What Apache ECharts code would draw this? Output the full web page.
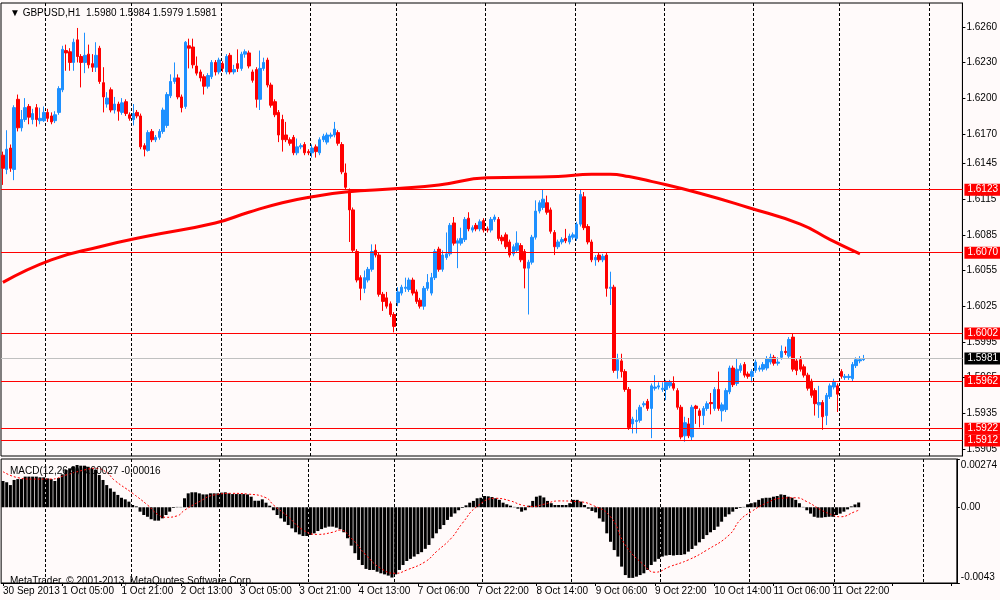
<!DOCTYPE html>
<html>
<head>
<meta charset="utf-8">
<title>GBPUSD,H1</title>
<script src="https://cdn.jsdelivr.net/npm/echarts@6/dist/echarts.min.js"></script>
<style>
html, body { margin: 0; padding: 0; background: #fffafa; }
#chart { width: 1000px; height: 600px; }
</style>
</head>
<body>
<div id="chart"></div>
<script>
// time labels under the chart, one every 16 hourly bars
var timeLabels = ['30 Sep 2013', '1 Oct 05:00', '1 Oct 21:00', '2 Oct 13:00', '3 Oct 05:00',
    '3 Oct 21:00', '4 Oct 13:00', '7 Oct 06:00', '7 Oct 22:00', '8 Oct 14:00',
    '9 Oct 06:00', '9 Oct 22:00', '10 Oct 14:00', '11 Oct 06:00', '11 Oct 22:00']
var slotCount = 258          // bars + empty space on the right
var daySlots = [12, 35, 59, 83, 106, 130, 154, 178, 202, 225, 249]

// hourly candles: [open, close, low, high]
var bars = [
    [1.6152, 1.6141, 1.6127, 1.6155], [1.6140, 1.6157, 1.6136, 1.6173], [1.6158, 1.6141, 1.6138, 1.6161], [1.6140, 1.6192, 1.6131, 1.6194],
    [1.6199, 1.6175, 1.6172, 1.6203], [1.6175, 1.6182, 1.6172, 1.6190], [1.6182, 1.6192, 1.6180, 1.6200], [1.6193, 1.6184, 1.6178, 1.6195],
    [1.6182, 1.6187, 1.6178, 1.6191], [1.6192, 1.6182, 1.6176, 1.6195], [1.6181, 1.6183, 1.6178, 1.6192], [1.6181, 1.6188, 1.6180, 1.6193],
    [1.6188, 1.6183, 1.6180, 1.6191], [1.6185, 1.6180, 1.6178, 1.6188], [1.6181, 1.6186, 1.6179, 1.6189], [1.6188, 1.6208, 1.6186, 1.6210],
    [1.6207, 1.6241, 1.6205, 1.6244], [1.6240, 1.6238, 1.6223, 1.6245], [1.6239, 1.6230, 1.6223, 1.6242], [1.6230, 1.6247, 1.6223, 1.6250],
    [1.6249, 1.6235, 1.6230, 1.6259], [1.6235, 1.6230, 1.6209, 1.6237], [1.6230, 1.6236, 1.6221, 1.6255], [1.6237, 1.6228, 1.6225, 1.6245],
    [1.6229, 1.6226, 1.6222, 1.6237], [1.6226, 1.6236, 1.6222, 1.6247], [1.6242, 1.6214, 1.6212, 1.6244], [1.6213, 1.6201, 1.6188, 1.6226],
    [1.6195, 1.6200, 1.6192, 1.6205], [1.6207, 1.6190, 1.6188, 1.6209], [1.6190, 1.6195, 1.6187, 1.6201], [1.6195, 1.6189, 1.6181, 1.6197],
    [1.6188, 1.6196, 1.6186, 1.6200], [1.6197, 1.6187, 1.6185, 1.6199], [1.6186, 1.6183, 1.6181, 1.6188], [1.6182, 1.6187, 1.6177, 1.6195],
    [1.6188, 1.6185, 1.6183, 1.6190], [1.6185, 1.6159, 1.6157, 1.6187], [1.6160, 1.6157, 1.6151, 1.6162], [1.6156, 1.6171, 1.6155, 1.6173],
    [1.6172, 1.6165, 1.6163, 1.6174], [1.6165, 1.6167, 1.6163, 1.6169], [1.6167, 1.6172, 1.6165, 1.6174], [1.6172, 1.6190, 1.6170, 1.6192],
    [1.6177, 1.6203, 1.6175, 1.6205], [1.6202, 1.6214, 1.6200, 1.6220], [1.6214, 1.6217, 1.6212, 1.6230], [1.6217, 1.6201, 1.6199, 1.6220],
    [1.6201, 1.6192, 1.6188, 1.6203], [1.6193, 1.6247, 1.6191, 1.6248], [1.6244, 1.6242, 1.6225, 1.6250], [1.6243, 1.6228, 1.6225, 1.6250],
    [1.6227, 1.6221, 1.6219, 1.6235], [1.6222, 1.6217, 1.6214, 1.6224], [1.6218, 1.6210, 1.6203, 1.6220], [1.6210, 1.6219, 1.6208, 1.6221],
    [1.6218, 1.6230, 1.6216, 1.6232], [1.6230, 1.6222, 1.6219, 1.6232], [1.6222, 1.6232, 1.6220, 1.6234], [1.6229, 1.6225, 1.6222, 1.6231],
    [1.6222, 1.6235, 1.6220, 1.6237], [1.6236, 1.6222, 1.6220, 1.6238], [1.6222, 1.6224, 1.6220, 1.6228], [1.6229, 1.6225, 1.6222, 1.6241],
    [1.6225, 1.6237, 1.6223, 1.6239], [1.6237, 1.6239, 1.6234, 1.6241], [1.6238, 1.6227, 1.6225, 1.6240], [1.6222, 1.6215, 1.6213, 1.6224],
    [1.6224, 1.6199, 1.6192, 1.6226], [1.6199, 1.6225, 1.6190, 1.6240], [1.6225, 1.6230, 1.6223, 1.6234], [1.6232, 1.6211, 1.6209, 1.6234],
    [1.6211, 1.6194, 1.6192, 1.6213], [1.6197, 1.6186, 1.6184, 1.6199], [1.6188, 1.6169, 1.6163, 1.6190], [1.6182, 1.6165, 1.6155, 1.6186],
    [1.6169, 1.6165, 1.6163, 1.6180], [1.6165, 1.6162, 1.6160, 1.6167], [1.6167, 1.6154, 1.6152, 1.6169], [1.6154, 1.6159, 1.6152, 1.6166],
    [1.6159, 1.6160, 1.6157, 1.6162], [1.6161, 1.6154, 1.6152, 1.6163], [1.6155, 1.6154, 1.6152, 1.6157], [1.6154, 1.6158, 1.6150, 1.6161],
    [1.6159, 1.6155, 1.6150, 1.6161], [1.6154, 1.6165, 1.6152, 1.6167], [1.6165, 1.6168, 1.6163, 1.6170], [1.6163, 1.6169, 1.6161, 1.6171],
    [1.6168, 1.6169, 1.6166, 1.6171], [1.6169, 1.6174, 1.6167, 1.6180], [1.6171, 1.6162, 1.6160, 1.6173], [1.6161, 1.6138, 1.6136, 1.6163],
    [1.6137, 1.6125, 1.6123, 1.6145], [1.6122, 1.6106, 1.6079, 1.6124], [1.6106, 1.6072, 1.6070, 1.6108], [1.6071, 1.6047, 1.6045, 1.6073],
    [1.6049, 1.6040, 1.6030, 1.6051], [1.6040, 1.6049, 1.6036, 1.6055], [1.6047, 1.6056, 1.6045, 1.6058], [1.6056, 1.6071, 1.6054, 1.6077],
    [1.6072, 1.6068, 1.6066, 1.6077], [1.6068, 1.6035, 1.6033, 1.6070], [1.6035, 1.6029, 1.6021, 1.6037], [1.6032, 1.6025, 1.6023, 1.6037],
    [1.6027, 1.6018, 1.6016, 1.6029], [1.6018, 1.6008, 1.6003, 1.6020], [1.6028, 1.6037, 1.6025, 1.6041], [1.6036, 1.6041, 1.6034, 1.6043],
    [1.6040, 1.6041, 1.6037, 1.6049], [1.6039, 1.6047, 1.6037, 1.6049], [1.6047, 1.6036, 1.6034, 1.6049], [1.6037, 1.6029, 1.6027, 1.6039],
    [1.6030, 1.6025, 1.6023, 1.6032], [1.6025, 1.6040, 1.6022, 1.6042], [1.6040, 1.6045, 1.6038, 1.6052], [1.6036, 1.6049, 1.6034, 1.6053],
    [1.6049, 1.6071, 1.6047, 1.6073], [1.6073, 1.6056, 1.6054, 1.6075], [1.6056, 1.6068, 1.6054, 1.6072], [1.6066, 1.6069, 1.6064, 1.6087],
    [1.6069, 1.6093, 1.6067, 1.6095], [1.6095, 1.6078, 1.6076, 1.6100], [1.6078, 1.6080, 1.6057, 1.6082], [1.6078, 1.6082, 1.6076, 1.6091],
    [1.6081, 1.6098, 1.6079, 1.6100], [1.6099, 1.6090, 1.6088, 1.6104], [1.6089, 1.6091, 1.6087, 1.6093], [1.6093, 1.6090, 1.6088, 1.6095],
    [1.6090, 1.6096, 1.6088, 1.6098], [1.6097, 1.6089, 1.6087, 1.6099], [1.6090, 1.6089, 1.6087, 1.6092], [1.6089, 1.6098, 1.6087, 1.6100],
    [1.6098, 1.6100, 1.6096, 1.6102], [1.6098, 1.6082, 1.6080, 1.6100], [1.6083, 1.6080, 1.6077, 1.6085], [1.6085, 1.6075, 1.6073, 1.6087],
    [1.6079, 1.6068, 1.6066, 1.6081], [1.6069, 1.6075, 1.6067, 1.6077], [1.6072, 1.6078, 1.6070, 1.6088], [1.6076, 1.6064, 1.6062, 1.6078],
    [1.6071, 1.6057, 1.6040, 1.6073], [1.6057, 1.6062, 1.6018, 1.6064], [1.6062, 1.6083, 1.6060, 1.6085], [1.6083, 1.6105, 1.6081, 1.6114],
    [1.6105, 1.6112, 1.6103, 1.6114], [1.6108, 1.6115, 1.6106, 1.6123], [1.6112, 1.6104, 1.6102, 1.6118], [1.6106, 1.6088, 1.6086, 1.6108],
    [1.6087, 1.6075, 1.6068, 1.6089], [1.6075, 1.6079, 1.6073, 1.6081], [1.6079, 1.6081, 1.6077, 1.6083], [1.6082, 1.6080, 1.6078, 1.6090],
    [1.6079, 1.6084, 1.6077, 1.6086], [1.6083, 1.6085, 1.6081, 1.6087], [1.6082, 1.6094, 1.6080, 1.6096], [1.6094, 1.6119, 1.6092, 1.6123],
    [1.6117, 1.6091, 1.6089, 1.6121], [1.6092, 1.6079, 1.6077, 1.6094], [1.6079, 1.6064, 1.6062, 1.6081], [1.6064, 1.6066, 1.6059, 1.6068],
    [1.6068, 1.6064, 1.6062, 1.6070], [1.6064, 1.6067, 1.6062, 1.6069], [1.6068, 1.6040, 1.6033, 1.6070], [1.6040, 1.6041, 1.6026, 1.6054],
    [1.6041, 1.5971, 1.5969, 1.6043], [1.5971, 1.5980, 1.5964, 1.5985], [1.5979, 1.5970, 1.5965, 1.5985], [1.5970, 1.5955, 1.5953, 1.5972],
    [1.5955, 1.5923, 1.5921, 1.5957], [1.5926, 1.5930, 1.5918, 1.5932], [1.5928, 1.5929, 1.5918, 1.5938], [1.5929, 1.5940, 1.5927, 1.5942],
    [1.5942, 1.5943, 1.5940, 1.5945], [1.5945, 1.5939, 1.5937, 1.5947], [1.5939, 1.5958, 1.5914, 1.5960], [1.5956, 1.5957, 1.5954, 1.5967],
    [1.5957, 1.5958, 1.5955, 1.5961], [1.5955, 1.5956, 1.5953, 1.5961], [1.5955, 1.5961, 1.5946, 1.5963], [1.5958, 1.5961, 1.5956, 1.5963],
    [1.5960, 1.5956, 1.5954, 1.5966], [1.5954, 1.5940, 1.5938, 1.5956], [1.5940, 1.5915, 1.5913, 1.5942], [1.5916, 1.5927, 1.5911, 1.5932],
    [1.5926, 1.5916, 1.5914, 1.5931], [1.5915, 1.5940, 1.5912, 1.5942], [1.5941, 1.5939, 1.5926, 1.5942], [1.5937, 1.5933, 1.5923, 1.5939],
    [1.5933, 1.5939, 1.5925, 1.5941], [1.5939, 1.5943, 1.5937, 1.5945], [1.5944, 1.5943, 1.5934, 1.5952], [1.5939, 1.5955, 1.5937, 1.5957],
    [1.5955, 1.5939, 1.5937, 1.5970], [1.5937, 1.5942, 1.5928, 1.5944], [1.5938, 1.5954, 1.5936, 1.5956], [1.5953, 1.5973, 1.5951, 1.5975],
    [1.5973, 1.5959, 1.5957, 1.5975], [1.5960, 1.5972, 1.5958, 1.5981], [1.5971, 1.5975, 1.5969, 1.5977], [1.5976, 1.5967, 1.5965, 1.5978],
    [1.5968, 1.5966, 1.5964, 1.5970], [1.5966, 1.5970, 1.5961, 1.5972], [1.5971, 1.5978, 1.5969, 1.5980], [1.5972, 1.5973, 1.5970, 1.5975],
    [1.5972, 1.5976, 1.5970, 1.5978], [1.5973, 1.5981, 1.5971, 1.5983], [1.5978, 1.5982, 1.5976, 1.5985], [1.5982, 1.5977, 1.5975, 1.5984],
    [1.5977, 1.5978, 1.5975, 1.5982], [1.5982, 1.5987, 1.5980, 1.5992], [1.5987, 1.5986, 1.5984, 1.5991], [1.5983, 1.5997, 1.5981, 1.5999],
    [1.5999, 1.5972, 1.5970, 1.6002], [1.5979, 1.5971, 1.5967, 1.5981], [1.5980, 1.5972, 1.5970, 1.5983], [1.5974, 1.5967, 1.5965, 1.5976],
    [1.5967, 1.5956, 1.5954, 1.5969], [1.5962, 1.5950, 1.5948, 1.5964], [1.5954, 1.5943, 1.5933, 1.5956], [1.5942, 1.5944, 1.5931, 1.5958],
    [1.5944, 1.5932, 1.5921, 1.5946], [1.5933, 1.5950, 1.5925, 1.5952], [1.5949, 1.5958, 1.5947, 1.5960], [1.5957, 1.5961, 1.5955, 1.5964],
    [1.5958, 1.5951, 1.5936, 1.5960], [1.5970, 1.5966, 1.5964, 1.5972], [1.5965, 1.5966, 1.5963, 1.5968], [1.5965, 1.5966, 1.5963, 1.5968],
    [1.5964, 1.5976, 1.5962, 1.5978], [1.5975, 1.5980, 1.5973, 1.5982], [1.5979, 1.5980, 1.5977, 1.5983], [1.5980, 1.5981, 1.5979, 1.5984]
]

// moving average: [bar, price]
var maPoints = [[0, 1.6045], [13, 1.6064], [26, 1.6075], [39, 1.6084], [57, 1.6095], [66, 1.6104], [75, 1.6112],
    [83, 1.6117], [92, 1.6121], [106, 1.6124], [117, 1.6127], [130, 1.6133], [149, 1.6134], [158, 1.6136],
    [163, 1.6136], [168, 1.6134], [174, 1.6130], [187, 1.6120], [200, 1.6108], [214, 1.6094], [222, 1.6081], [230, 1.6069]]

// horizontal levels and the bid line
var levels = [1.6123, 1.6070, 1.6002, 1.5962, 1.5922, 1.5912]
var bidPrice = 1.5981

// price axis labels as printed on the chart
var priceTicks = [1.6260, 1.6230, 1.6200, 1.6170, 1.6145, 1.6115, 1.6085, 1.6055, 1.6025, 1.5995, 1.5965, 1.5935, 1.5905]

// MACD(12,26,9) histogram, one per bar
var macdHist = [
    0.00149, 0.00142, 0.00126, 0.00155, 0.00160, 0.00160, 0.00174, 0.00174, 0.00174, 0.00174, 0.00170, 0.00170,
    0.00164, 0.00160, 0.00149, 0.00166, 0.00187, 0.00212, 0.00221, 0.00230, 0.00240, 0.00236, 0.00236, 0.00230,
    0.00221, 0.00212, 0.00183, 0.00155, 0.00126, 0.00107, 0.00088, 0.00070, 0.00054, 0.00045, 0.00032, 0.00013,
    0.00005, -0.00025, -0.00044, -0.00054, -0.00068, -0.00076, -0.00076, -0.00063, -0.00044, -0.00025, -0.00004, 0.00002,
    0.00002, 0.00051, 0.00079, 0.00085, 0.00085, 0.00079, 0.00073, 0.00073, 0.00079, 0.00079, 0.00079, 0.00083,
    0.00085, 0.00079, 0.00075, 0.00075, 0.00075, 0.00075, 0.00073, 0.00060, 0.00037, 0.00037, 0.00045, 0.00026,
    0.00009, -0.00017, -0.00044, -0.00063, -0.00082, -0.00101, -0.00120, -0.00142, -0.00154, -0.00163, -0.00163, -0.00157,
    -0.00148, -0.00135, -0.00124, -0.00116, -0.00110, -0.00110, -0.00116, -0.00124, -0.00142, -0.00176, -0.00218, -0.00261,
    -0.00299, -0.00328, -0.00350, -0.00356, -0.00356, -0.00366, -0.00375, -0.00381, -0.00388, -0.00399, -0.00381, -0.00356,
    -0.00328, -0.00305, -0.00293, -0.00280, -0.00266, -0.00255, -0.00236, -0.00214, -0.00176, -0.00148, -0.00124, -0.00101,
    -0.00072, -0.00054, -0.00035, -0.00017, -0.00004, 0.00011, 0.00026, 0.00036, 0.00051, 0.00054, 0.00064, 0.00062,
    0.00058, 0.00051, 0.00042, 0.00026, 0.00017, 0.00009, 0.00002, -0.00008, -0.00025, -0.00017, 0.00009, 0.00036,
    0.00060, 0.00066, 0.00056, 0.00036, 0.00023, 0.00013, 0.00013, 0.00013, 0.00013, 0.00023, 0.00042, 0.00042,
    0.00032, 0.00013, -0.00008, -0.00021, -0.00029, -0.00063, -0.00082, -0.00148, -0.00196, -0.00243, -0.00280, -0.00337,
    -0.00385, -0.00401, -0.00401, -0.00394, -0.00385, -0.00375, -0.00356, -0.00328, -0.00309, -0.00293, -0.00280, -0.00274,
    -0.00271, -0.00274, -0.00271, -0.00271, -0.00267, -0.00252, -0.00237, -0.00218, -0.00199, -0.00180, -0.00158, -0.00142,
    -0.00129, -0.00110, -0.00082, -0.00054, -0.00040, -0.00025, -0.00010, -0.00004, 0.00002, 0.00017, 0.00023, 0.00028,
    0.00042, 0.00051, 0.00054, 0.00054, 0.00060, 0.00064, 0.00073, 0.00070, 0.00060, 0.00054, 0.00042, 0.00023,
    0.00002, -0.00017, -0.00036, -0.00054, -0.00059, -0.00059, -0.00056, -0.00054, -0.00054, -0.00044, -0.00036, -0.00025,
    -0.00012, 0.00005, 0.00016, 0.00027
]

// signal line (red dots): [bar, value]
var signalPoints = [[0, 0.00202], [4, 0.00168], [8, 0.00160], [13, 0.00160], [17, 0.00183], [22, 0.00212], [25, 0.00221],
    [28, 0.00198], [30, 0.00155], [35, 0.00079], [39, 0.00013], [42, -0.00044], [44, -0.00057], [47, -0.00049],
    [49, -0.00017], [53, 0.00032], [57, 0.00070], [62, 0.00079], [66, 0.00075], [71, 0.00054], [73, 0.00013],
    [77, -0.00054], [81, -0.00129], [85, -0.00154], [89, -0.00142], [91, -0.00129], [94, -0.00176], [98, -0.00271],
    [102, -0.00347], [106, -0.00375], [109, -0.00356], [114, -0.00309], [117, -0.00252], [121, -0.00176], [124, -0.00091],
    [128, 0.00005], [133, 0.00051], [137, 0.00036], [140, 0.00013], [143, 0.00004], [146, 0.00017], [150, 0.00036],
    [155, 0.00032], [159, 0.00013], [164, -0.00054], [168, -0.00214], [173, -0.00328], [176, -0.00369], [180, -0.00337],
    [185, -0.00299], [190, -0.00243], [196, -0.00158], [199, -0.00072], [202, -0.00025], [206, 0.00023], [210, 0.00051],
    [214, 0.00054], [217, 0.00032], [221, -0.00017], [224, -0.00044], [226, -0.00054], [230, -0.00025], [231, -0.00016]]

var macdTicks = [0.00274, 0, -0.0043]
var macdTickText = ['0.00274', '0.00', '-0.0043']

window.onload = function () {
    var chart = echarts.init(document.getElementById('chart'))
    var font = "'Liberation Sans', sans-serif"
    var fs = 10

    // category names: printed label every 16 bars, placeholder names elsewhere
    var cats = []
    for (var i = 0; i < slotCount; i++) {
        cats.push(i % 16 === 0 && timeLabels[i / 16] ? timeLabels[i / 16] : '#' + i)
    }

    var dayLine = {
        show: true,
        interval: function (idx) { return daySlots.indexOf(idx) >= 0 },
        lineStyle: { color: '#000', type: [3, 2], width: 1 }
    }

    var levelLines = levels.map(function (v) {
        return { yAxis: v, lineStyle: { color: '#ff0000', width: 1, type: 'solid' } }
    })
    levelLines.push({
        yAxis: bidPrice,
        lineStyle: { color: '#c0c0c0', width: 1, type: 'solid' },
        label: { backgroundColor: '#000' }
    })

    var plainText = { fontSize: fs, fontWeight: 'normal', color: '#000', fontFamily: font }

    var option = {
        animation: false,
        backgroundColor: '#fffafa',
        textStyle: { fontFamily: font },
        title: [
            { text: '▼ GBPUSD,H1  1.5980 1.5984 1.5979 1.5981', left: 5, top: 3, textStyle: plainText },
            { text: 'MACD(12,26,9) 0.00027 -0.00016', left: 5, top: 461, textStyle: plainText },
            { text: 'MetaTrader, © 2001-2013, MetaQuotes Software Corp.', left: 5, top: 571, textStyle: plainText }
        ],
        grid: [
            { left: 1, right: 37, top: 3, height: 453, show: true, borderColor: '#000', borderWidth: 1, backgroundColor: '#fffafa' },
            { left: 1, right: 37, top: 459, height: 124, show: true, borderColor: '#000', borderWidth: 1, backgroundColor: '#fffafa' }
        ],
        xAxis: [
            {
                type: 'category', gridIndex: 0, data: cats, boundaryGap: true,
                axisLine: { show: false }, axisTick: { show: false }, axisLabel: { show: false },
                splitLine: dayLine
            },
            {
                type: 'category', gridIndex: 1, data: cats, boundaryGap: true,
                axisLine: { show: true, onZero: false, lineStyle: { color: '#000' } },
                axisTick: { show: true, interval: 15, alignWithLabel: true, length: 3, lineStyle: { color: '#000' } },
                axisLabel: {
                    interval: 15, align: 'left', margin: 3, fontSize: fs, color: '#000', fontFamily: font,
                    hideOverlap: false, showMinLabel: true,
                    formatter: function (v) { return v.charAt(0) === '#' ? '' : v }
                },
                splitLine: dayLine
            }
        ],
        yAxis: [
            {
                type: 'value', gridIndex: 0, position: 'right', min: 1.5899, max: 1.6280, scale: true,
                axisLine: { show: true, lineStyle: { color: '#000' } },
                axisTick: { show: true, customValues: priceTicks, length: 3, lineStyle: { color: '#000' } },
                axisLabel: {
                    customValues: priceTicks, margin: 4, fontSize: fs, color: '#000', fontFamily: font,
                    formatter: function (v) { return v.toFixed(4) }
                },
                splitLine: { show: false }
            },
            {
                type: 'value', gridIndex: 1, position: 'right', min: -0.0043, max: 0.00274,
                axisLine: { show: true, lineStyle: { color: '#000' } },
                axisTick: { show: true, customValues: macdTicks, length: 3, lineStyle: { color: '#000' } },
                axisLabel: {
                    customValues: macdTicks, margin: 4, fontSize: fs, color: '#000', fontFamily: font,
                    formatter: function (v) {
                        var k = macdTicks.indexOf(v)
                        var txt = k >= 0 ? macdTickText[k] : ''
                        if (k === 0) return '{t|' + txt + '}'
                        if (k === 2) return '{b|' + txt + '}'
                        return txt
                    },
                    rich: {
                        t: { padding: [12, 0, 0, 0], fontSize: fs, fontFamily: font, color: '#000' },
                        b: { padding: [0, 0, 12, 0], fontSize: fs, fontFamily: font, color: '#000' }
                    }
                },
                splitLine: { show: false }
            }
        ],
        series: [
            {
                name: 'GBPUSD', type: 'candlestick', xAxisIndex: 0, yAxisIndex: 0,
                data: bars, barWidth: 3,
                itemStyle: {
                    color: '#1e90ff', color0: '#ff0000',
                    borderColor: '#1e90ff', borderColor0: '#ff0000', borderWidth: 1
                },
                markLine: {
                    silent: true, symbol: ['none', 'none'], animation: false, precision: 4,
                    lineStyle: { color: '#ff0000', width: 1, type: 'solid' },
                    label: {
                        position: 'end', distance: 2, color: '#fff', backgroundColor: '#ff0000',
                        padding: [1, 3], fontSize: fs, fontFamily: font,
                        formatter: function (p) { return Number(p.value).toFixed(4) }
                    },
                    data: levelLines
                }
            },
            {
                name: 'MA', type: 'line', xAxisIndex: 0, yAxisIndex: 0,
                data: maPoints, smooth: true, symbol: 'none',
                lineStyle: { color: '#ff0000', width: 3 }
            },
            {
                name: 'MACD', type: 'bar', xAxisIndex: 1, yAxisIndex: 1,
                data: macdHist, barWidth: 3,
                itemStyle: { color: '#000' }
            },
            {
                name: 'Signal', type: 'line', xAxisIndex: 1, yAxisIndex: 1,
                data: signalPoints, smooth: true, symbol: 'none',
                lineStyle: { color: '#ff0000', width: 1, type: [2, 2] }
            }
        ]
    }

    chart.setOption(option)
}
</script>
</body>
</html>
